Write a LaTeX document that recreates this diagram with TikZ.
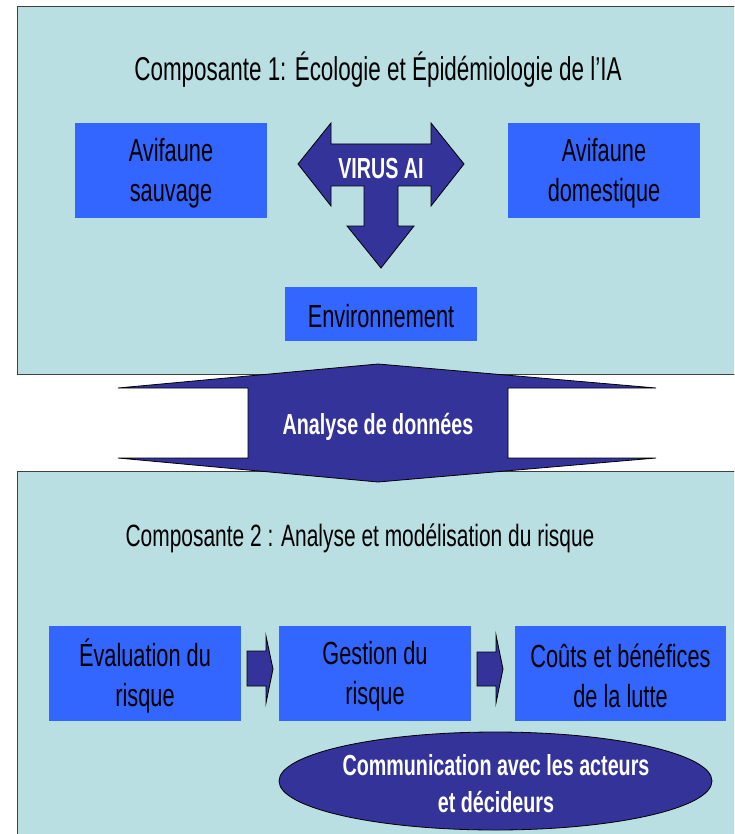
\documentclass[tikz,border=0pt]{standalone}
\usepackage{fontspec}
\setmainfont{Liberation Sans}
\newfontfamily\nar[FakeStretch=0.68]{Liberation Sans}
\usetikzlibrary{shapes.geometric}
\definecolor{panelc}{RGB}{185,223,226}
\definecolor{boxblue}{RGB}{51,102,255}
\definecolor{darkarrow}{RGB}{51,51,153}
\begin{document}
\begin{tikzpicture}[x=1pt,y=-1pt,
  panel/.style={fill=panelc, draw=black!75, line width=1pt},
  bluebox/.style={fill=boxblue, draw=none, minimum width=192pt, minimum height=95pt, inner sep=0pt},
  boxtext/.style={align=center, inner sep=0pt, font=\nar\fontsize{32}{40}\selectfont},
  darkshape/.style={fill=darkarrow, draw=black, line width=0.8pt, line join=miter},
  titletext/.style={font=\nar\fontsize{33}{38}\selectfont, anchor=base},
  boldwhite/.style={font=\nar\bfseries\fontsize{29}{37}\selectfont, text=white, align=center}]
\useasboundingbox (0,0) rectangle (734,834);
\fill[white] (0,0) rectangle (734,834);
\begin{scope}
\clip (0,0) rectangle (734,834);
\draw[panel] (17,7) rectangle (760,374);
\draw[panel] (17,471) rectangle (760,860);
\end{scope}
% titles
\node[titletext] (t1) at (378,81) {Composante 1: Écologie et Épidémiologie de l’IA};
\node[titletext, font=\nar\fontsize{30.8}{38}\selectfont] (t2) at (360,546) {Composante 2 : Analyse et modélisation du risque};
% component 1 boxes
\node[bluebox] (sauv) at (171,170.5) {};
\node[boxtext] (sauvt) at (171,173) {Avifaune\\sauvage};
\node[bluebox] (dom) at (604,170.5) {};
\node[boxtext] (domt) at (604,173) {Avifaune\\domestique};
\node[bluebox, minimum height=54pt] (env) at (381,314) {};
\node[boxtext] (envt) at (381,316) {Environnement};
% VIRUS AI arrow
\draw[darkshape] (298,164) -- (331,123) -- (331,144) -- (431,144) -- (431,123) -- (464,164)
  -- (431,206) -- (431,186) -- (398,186) -- (398,226) -- (414,226) -- (381,268)
  -- (347,226) -- (364,226) -- (364,186) -- (331,186) -- (331,206) -- cycle;
\node[boldwhite] (virus) at (381,169) {VIRUS AI};
% Analyse de donnees arrow
\draw[darkshape] (378,364) -- (656,388) -- (508,388) -- (508,458) -- (656,458) -- (378,482)
  -- (118,458) -- (248,458) -- (248,388) -- (118,388) -- cycle;
\node[boldwhite] (analyse) at (378,427) {Analyse de données};
% component 2 boxes
\node[bluebox] (eval) at (145,673.5) {};
\node[boxtext] (evalt) at (145,676) {Évaluation du\\risque};
\node[bluebox] (gest) at (375,673.5) {};
\node[boxtext] (gestt) at (375,676) {Gestion du\\risque};
\node[bluebox, minimum width=211pt] (couts) at (620.5,673.5) {};
\node[boxtext] (coutst) at (620.5,676) {Coûts et bénéfices\\de la lutte};
% small arrows
\draw[darkshape] (247,651) -- (266,651) -- (266,636) -- (273,669) -- (266,703) -- (266,686) -- (247,686) -- cycle;
\draw[darkshape] (477,652) -- (496,652) -- (496,635) -- (503,669) -- (496,703) -- (496,686) -- (477,686) -- cycle;
% ellipse
\node[ellipse, darkshape, minimum width=433pt, minimum height=98pt, inner sep=0pt] (comm) at (495.5,781) {};
\node[boldwhite] (commt) at (496,784) {Communication avec les acteurs\\et décideurs};
\end{tikzpicture}
\end{document}
